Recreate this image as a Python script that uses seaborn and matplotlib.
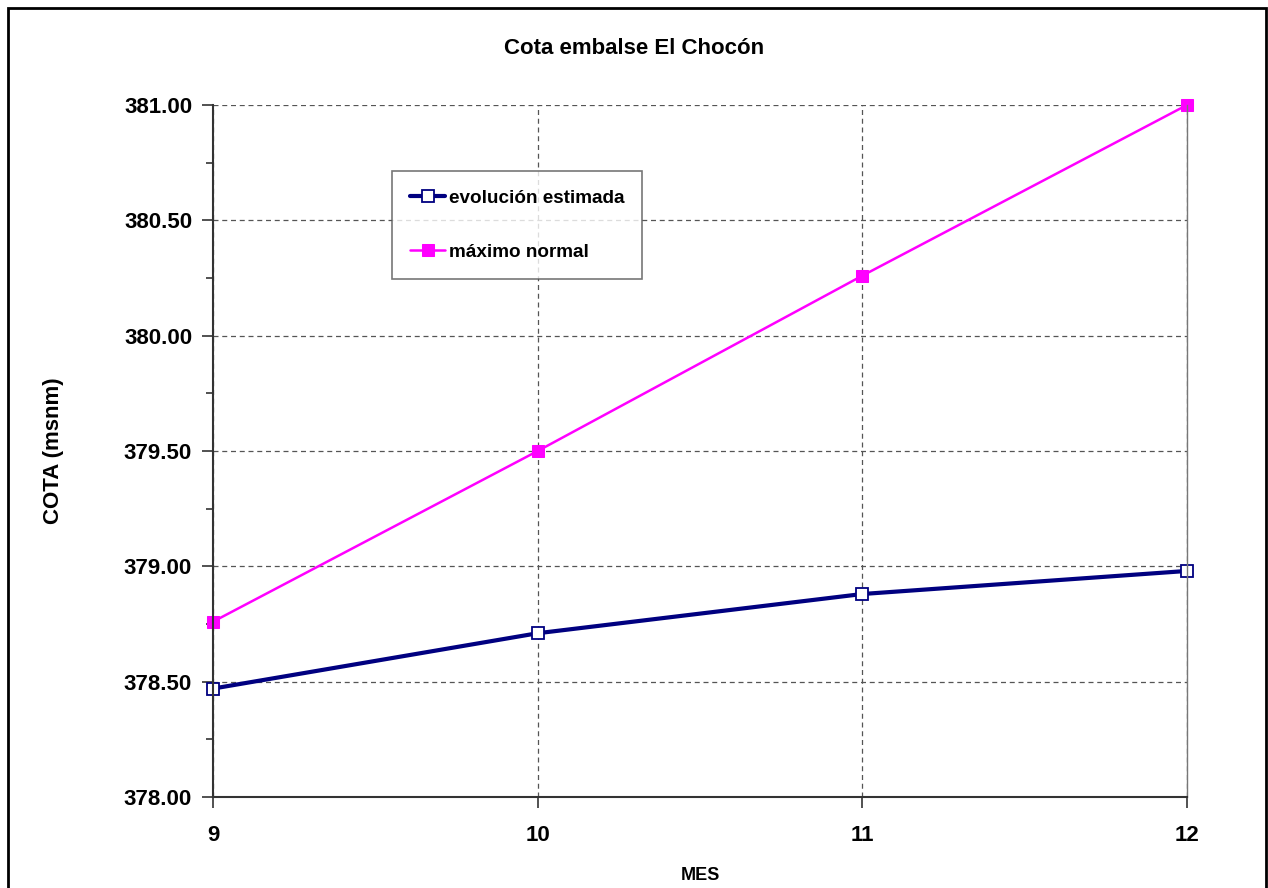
import matplotlib.pyplot as plt
import matplotlib.patches as mpatches
import pandas as pd
import seaborn as sns
from matplotlib.ticker import MultipleLocator, FormatStrFormatter

# Data
meses = [9, 10, 11, 12]
evolucion_estimada = [378.47, 378.71, 378.88, 378.98]
maximo_normal = [378.76, 379.50, 380.26, 381.00]

df = pd.DataFrame({
    "MES": meses * 2,
    "COTA": evolucion_estimada + maximo_normal,
    "serie": ["evolución estimada"] * 4 + ["máximo normal"] * 4,
})

sns.set_style("white", rc={"text.color": "black", "axes.labelcolor": "black",
                           "xtick.color": "black", "ytick.color": "black"})
plt.rcParams["font.family"] = ["Liberation Sans", "DejaVu Sans"]
plt.rcParams["font.weight"] = "bold"

fig = plt.figure(figsize=(12.68, 8.88), dpi=100)
ax = fig.add_axes([213 / 1268, 1 - 797 / 888, (1187 - 213) / 1268, (797 - 105) / 888])

# Figure border
fig.patches.append(mpatches.Rectangle((8 / 1268, -0.01), (1266 - 8) / 1268, 1 - 8 / 888 + 0.01,
                                      transform=fig.transFigure, fill=False,
                                      edgecolor="black", linewidth=2))

# Grid
ax.set_axisbelow(True)
ax.grid(True, which="major", linestyle=(0, (4, 3)), color="#555555", linewidth=0.9)

sns.lineplot(data=df[df["serie"] == "evolución estimada"], x="MES", y="COTA",
             color="#000080", linewidth=3, marker="s",
             markersize=8, markerfacecolor="white", markeredgecolor="#000080",
             markeredgewidth=1.3, ax=ax, label="evolución estimada", clip_on=False)
sns.lineplot(data=df[df["serie"] == "máximo normal"], x="MES", y="COTA",
             color="#ff00ff", linewidth=1.8, marker="s",
             markersize=8, markerfacecolor="#ff00ff", markeredgecolor="#ff00ff",
             ax=ax, label="máximo normal", clip_on=False)

ax.set_xlim(9, 12)
ax.set_ylim(378, 381)
ax.xaxis.set_major_locator(MultipleLocator(1))
ax.yaxis.set_major_locator(MultipleLocator(0.5))
ax.yaxis.set_minor_locator(MultipleLocator(0.25))
ax.yaxis.set_major_formatter(FormatStrFormatter("%.2f"))

ax.tick_params(axis="both", which="major", direction="out", length=8, width=1.2,
               color="#333333", labelsize=16)
ax.tick_params(axis="y", which="major", pad=7, left=True)
ax.tick_params(axis="x", which="major", pad=12, bottom=True)
ax.tick_params(axis="y", which="minor", direction="out", length=5, width=1.2,
               color="#333333", left=True)
for lbl in ax.get_xticklabels() + ax.get_yticklabels():
    lbl.set_fontweight("bold")

for side in ["left", "bottom"]:
    ax.spines[side].set_color("#333333")
    ax.spines[side].set_linewidth(1.5)
ax.spines["right"].set_color("#777777")
ax.spines["right"].set_linewidth(1)
ax.spines["top"].set_visible(False)

ax.set_xlabel("MES", fontsize=13, fontweight="bold", labelpad=15)
ax.set_ylabel("COTA (msnm)", fontsize=16, fontweight="bold", labelpad=43)
fig.text(634 / 1268, 1 - 48 / 888, "Cota embalse El Chocón",
         ha="center", va="center", fontsize=16, fontweight="bold")

leg = ax.legend(loc="upper left", bbox_to_anchor=(0.184, 0.904), frameon=True,
                fancybox=False, edgecolor="#555555",
                prop={"weight": "bold", "size": 13.6}, handlelength=1.85,
                labelspacing=1.95, borderpad=0.95, handletextpad=0.2,
                borderaxespad=0)
leg.get_frame().set_linewidth(1.2)

fig.savefig("out.png", dpi=100, facecolor="white")
